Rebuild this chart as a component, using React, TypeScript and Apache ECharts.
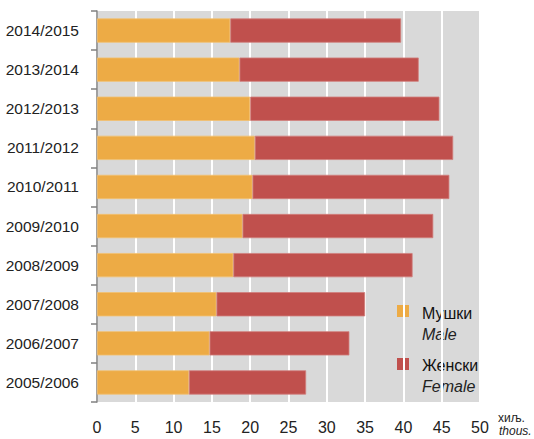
import React, { useEffect, useRef } from "react";
import * as echarts from "echarts";

const categories = [
  "2005/2006",
  "2006/2007",
  "2007/2008",
  "2008/2009",
  "2009/2010",
  "2010/2011",
  "2011/2012",
  "2012/2013",
  "2013/2014",
  "2014/2015",
];
const maleValues = [12.0, 14.7, 15.6, 17.8, 19.0, 20.3, 20.6, 20.0, 18.6, 17.4];
const femaleValues = [15.3, 18.25, 19.4, 23.4, 24.9, 25.7, 25.9, 24.7, 23.4, 22.3];
const xTicks = [0, 5, 10, 15, 20, 25, 30, 35, 40, 45, 50];
const maleLabel = ["Мушки", "Male"];
const femaleLabel = ["Женски", "Female"];
const unitLabel = ["хиљ.", "thous."];

const FONT = "'Liberation Sans', Arial, sans-serif";
const ORANGE = "#EDAB45";
const RED = "#C0504D";

export default function App() {
  const ref = useRef<HTMLDivElement>(null);
  useEffect(() => {
    if (!ref.current) return;
    const chart = echarts.init(ref.current, undefined, { renderer: "svg" });
    chart.setOption({
      animation: false,
      textStyle: { fontFamily: FONT },
      grid: {
        left: 97,
        right: 54,
        top: 11,
        bottom: 37,
        show: true,
        backgroundColor: "#D9D9D9",
        borderWidth: 0,
        containLabel: false,
        outerBoundsMode: "none",
      },
      xAxis: {
        type: "value",
        min: xTicks[0],
        max: xTicks[xTicks.length - 1],
        interval: 5,
        axisLine: { show: false },
        axisTick: { show: false },
        splitLine: { show: true, lineStyle: { color: "#FFFFFF", width: 2 } },
        axisLabel: {
          color: "#222",
          fontSize: 16,
          fontFamily: FONT,
          margin: 17,
        },
      },
      yAxis: {
        type: "category",
        data: categories,
        axisLine: { show: true, lineStyle: { color: "#808080", width: 1.5 } },
        axisTick: { show: true, length: 6, lineStyle: { color: "#808080", width: 1.5 } },
        axisLabel: {
          color: "#222",
          fontSize: 15.5,
          fontFamily: FONT,
          margin: 18,
        },
        splitLine: { show: false },
      },
      series: [
        {
          name: maleLabel[0],
          type: "bar",
          stack: "total",
          data: maleValues,
          barWidth: "62%",
          itemStyle: { color: ORANGE, borderColor: "#F2C070", borderWidth: 0.8 },
        },
        {
          name: femaleLabel[0],
          type: "bar",
          stack: "total",
          data: femaleValues,
          barWidth: "62%",
          itemStyle: { color: RED, borderColor: "#D07F7C", borderWidth: 0.8 },
        },
      ],
      graphic: [
        { type: "rect", left: 397, top: 305, shape: { width: 12, height: 12 }, style: { fill: ORANGE } },
        {
          type: "text",
          left: 422,
          top: 305,
          style: { text: maleLabel[0], fontSize: 16, fontFamily: FONT, fill: "#111" },
        },
        {
          type: "text",
          left: 422,
          top: 326,
          style: { text: maleLabel[1], fontSize: 16, fontStyle: "italic", fontFamily: FONT, fill: "#222" },
        },
        { type: "rect", left: 397, top: 358, shape: { width: 12, height: 12 }, style: { fill: RED } },
        {
          type: "text",
          left: 422,
          top: 357,
          style: { text: femaleLabel[0], fontSize: 16, fontFamily: FONT, fill: "#111" },
        },
        {
          type: "text",
          left: 422,
          top: 378,
          style: { text: femaleLabel[1], fontSize: 16, fontStyle: "italic", fontFamily: FONT, fill: "#222" },
        },
        {
          type: "text",
          left: 498,
          top: 412,
          style: { text: unitLabel[0], fontSize: 12, fontFamily: FONT, fill: "#222" },
        },
        {
          type: "text",
          left: 499,
          top: 425,
          style: { text: unitLabel[1], fontSize: 12, fontStyle: "italic", fontFamily: FONT, fill: "#222" },
        },
      ],
    });
    return () => chart.dispose();
  }, []);
  return <div ref={ref} style={{ width: 534, height: 439, position: "absolute", left: 0, top: 0 }} />;
}
